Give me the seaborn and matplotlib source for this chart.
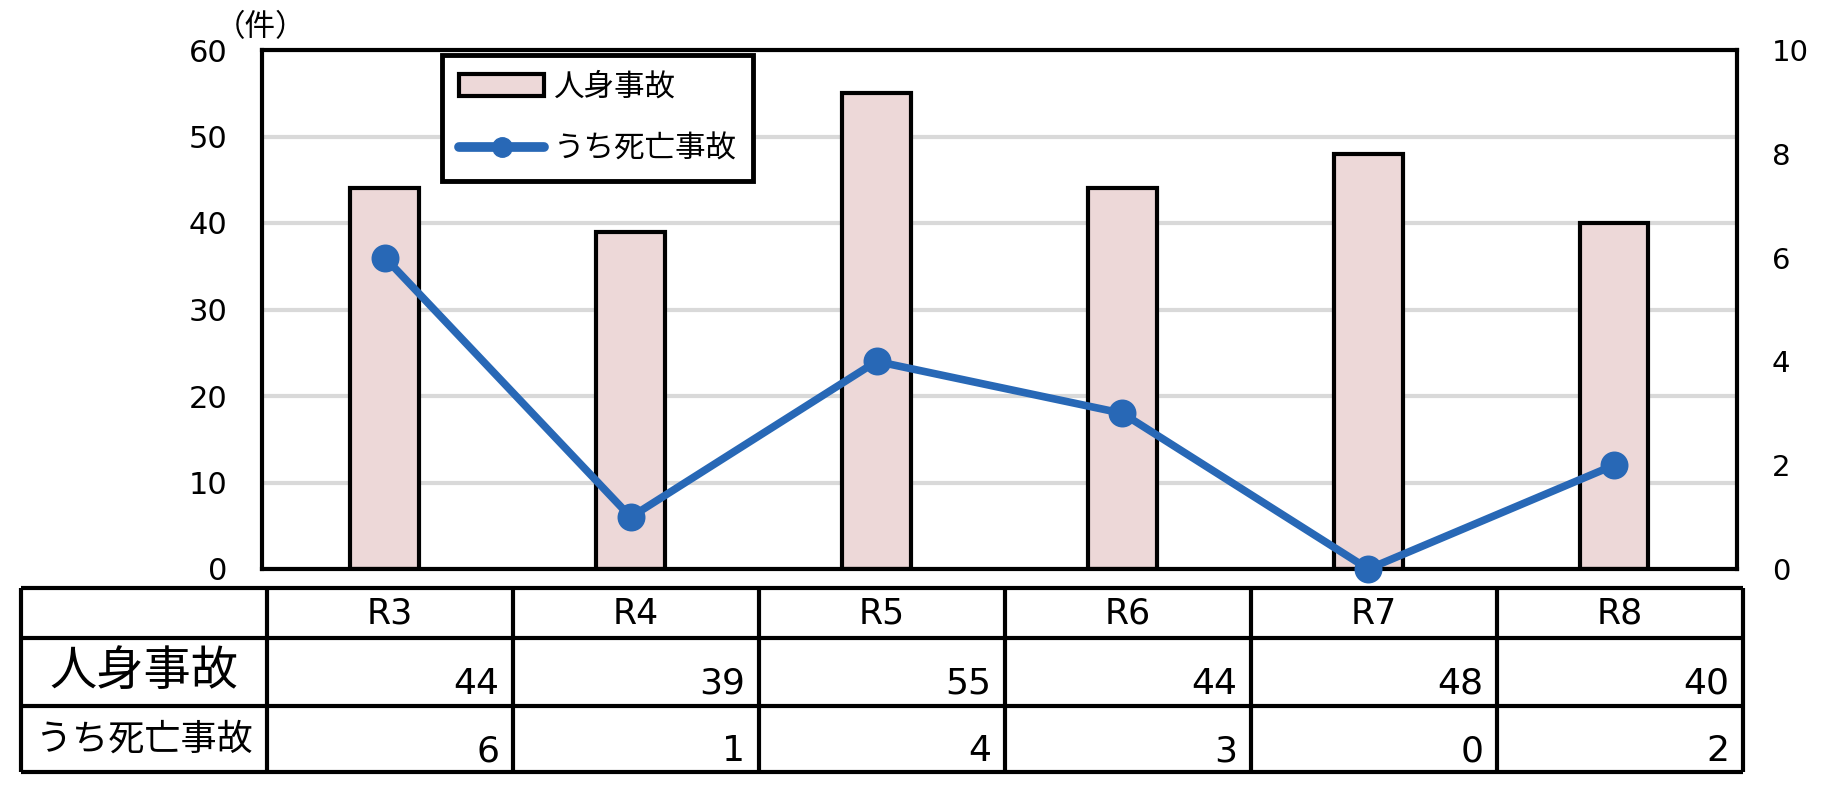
import matplotlib
matplotlib.use("Agg")
import matplotlib.pyplot as plt
import seaborn as sns
from matplotlib.patches import Patch
from matplotlib.lines import Line2D

# data
years = ["R3", "R4", "R5", "R6", "R7", "R8"]
injuries = [44, 39, 55, 44, 48, 40]
deaths = [6, 1, 4, 3, 0, 2]
row_labels = ["人身事故", "うち死亡事故"]
left_ticks = [0, 10, 20, 30, 40, 50, 60]
right_ticks = [0, 2, 4, 6, 8, 10]

sns.set_style("white")
plt.rcParams['font.family'] = ['Noto Sans CJK JP', 'DejaVu Sans']
plt.rcParams['text.color'] = 'black'
plt.rcParams['xtick.color'] = 'black'
plt.rcParams['ytick.color'] = 'black'

pink = '#EDD8D8'
blue = '#2868B6'
W, H = 1822, 797
num_font = ['DejaVu Sans']

fig = plt.figure(figsize=(W / 100, H / 100), dpi=100)
ax = fig.add_axes([262 / W, 1 - 569 / H, (1737 - 262) / W, (569 - 50) / H])

# bars
sns.barplot(x=years, y=injuries, color=pink, saturation=1, width=0.28,
            edgecolor='black', linewidth=3, ax=ax, zorder=2)
ax.set_ylim(0, 60)
ax.set_yticks(left_ticks)
ax.set_xlim(-0.5, 5.5)
ax.yaxis.grid(True, color='#d9d9d9', linewidth=3, zorder=0)
ax.set_axisbelow(True)
ax.tick_params(axis='x', length=0, labelbottom=False)
ax.tick_params(axis='y', length=0, pad=25, labelsize=22, labelcolor='black')
for lab in ax.get_yticklabels():
    lab.set_family(num_font)
for sp in ax.spines.values():
    sp.set_visible(True)
    sp.set_color('black')
    sp.set_linewidth(3)
ax.set_xlabel('')
ax.set_ylabel('')

# line on secondary axis
ax2 = ax.twinx()
sns.pointplot(x=years, y=deaths, color=blue, markers='o', markersize=16,
              linewidth=5.5, errorbar=None, ax=ax2)
ax2.set_ylim(0, 10)
ax2.set_yticks(right_ticks)
ax2.set_xlim(-0.5, 5.5)
ax2.tick_params(axis='x', length=0, labelbottom=False)
ax2.tick_params(axis='y', length=0, pad=25, labelsize=21, labelcolor='black')
for lab in ax2.get_yticklabels():
    lab.set_family(num_font)
for sp in ax2.spines.values():
    sp.set_visible(False)
for ln in ax2.lines:
    ln.set_clip_on(False)
ax2.set_xlabel('')
ax2.set_ylabel('')

# legend
handles = [Patch(facecolor=pink, edgecolor='black', linewidth=3),
           Line2D([0], [0], color=blue, linewidth=7, marker='o', markersize=14)]
leg = ax2.legend(handles, row_labels, loc='upper left',
                 bbox_to_anchor=(442 / W, 1 - 55 / H), bbox_transform=fig.transFigure,
                 fontsize=22, frameon=True, fancybox=False, framealpha=1,
                 edgecolor='black', handlelength=2.8, handleheight=0.7,
                 handletextpad=0.3, labelspacing=1.0, borderpad=0.55,
                 borderaxespad=0, labelcolor='black')
leg.get_frame().set_linewidth(3.5)

fig.text(261 / W, 1 - 12 / H, "（件）", ha='center', va='top', fontsize=22)

# data table under the chart
tab = fig.add_axes([21 / W, 1 - 772 / H, (1743 - 21) / W, (772 - 588) / H])
tab.set_xlim(-1.5, 5.5)
row_edges = [0, 50, 118, 184]
tab.set_ylim(184, 0)
tab.axis('off')
for x in range(-1, 7):
    tab.vlines(x - 0.5, 0, 184, color='black', linewidth=3, clip_on=False)
for y in row_edges:
    tab.hlines(y, -1.5, 5.5, color='black', linewidth=3, clip_on=False)

for i, yr in enumerate(years):
    tab.text(i, 26, yr, ha='center', va='center', fontsize=25, family=num_font)
    tab.text(i + 0.445, 118 - 12, str(injuries[i]), ha='right', va='baseline',
             fontsize=26, family=num_font)
    tab.text(i + 0.445, 184 - 11, str(deaths[i]), ha='right', va='baseline',
             fontsize=26, family=num_font)

tab.text(-1, 84, row_labels[0], ha='center', va='center', fontsize=34)
tab.text(-1, 152, row_labels[1], ha='center', va='center', fontsize=26)

fig.savefig('out.png', dpi=100)
